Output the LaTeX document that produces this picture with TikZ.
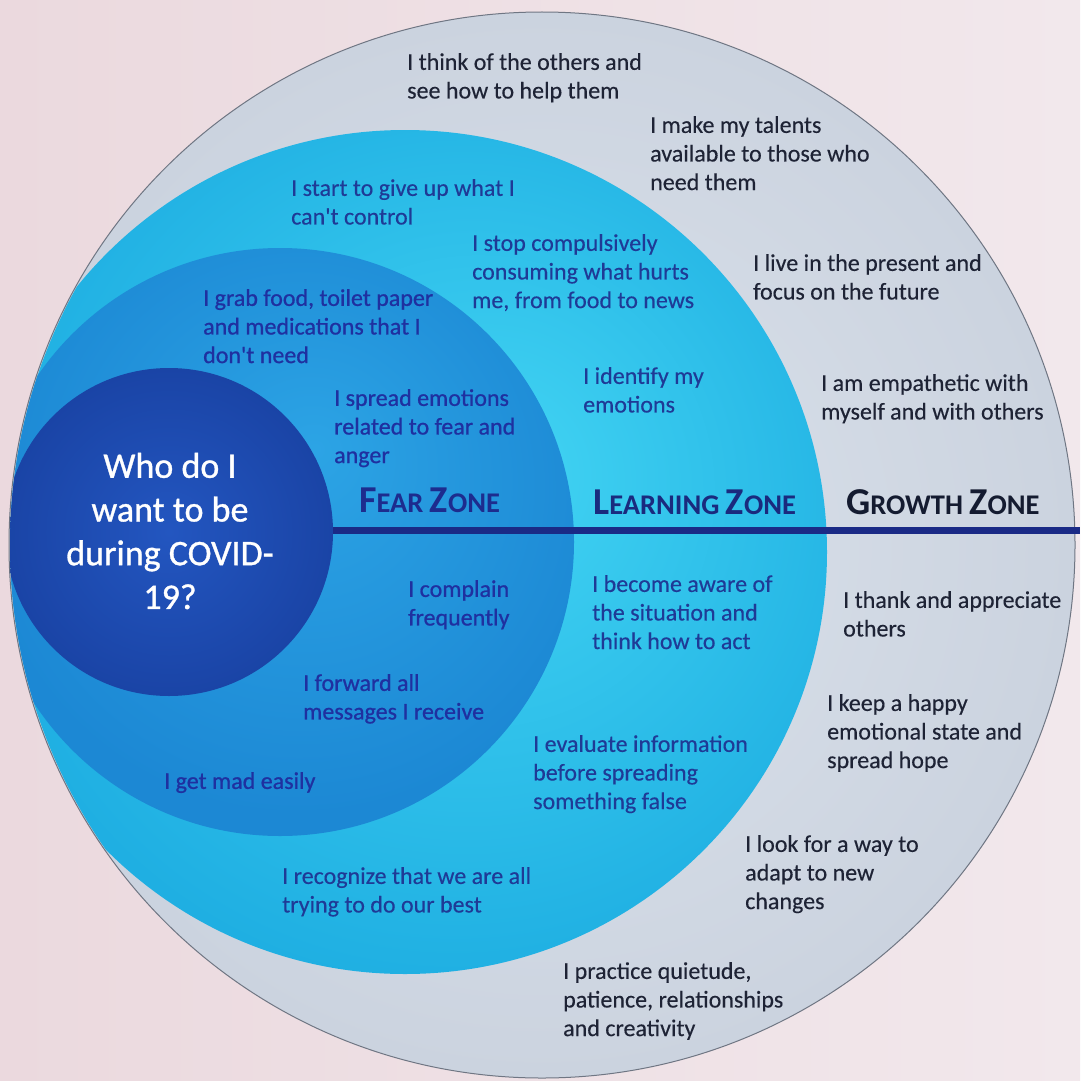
\documentclass[tikz,border=0pt]{standalone}
\usepackage{fontspec}
\setmainfont{Carlito}[Ligatures=TeXOff]
\newfontfamily\semib{Carlito}[FakeBold=0.8,Ligatures=TeXOff]
\newfontfamily\lightb{Carlito}[FakeBold=0.3,Ligatures=TeXOff]
\newfontfamily\whob{Carlito}[FakeBold=0.9,Ligatures=TeXOff]
\definecolor{bgL}{HTML}{EBD9DE}
\definecolor{bgR}{HTML}{F2E8EC}
\definecolor{growIn}{HTML}{DCE3EC}
\definecolor{growOut}{HTML}{CBD3DF}
\definecolor{growEdge}{HTML}{6F7683}
\definecolor{learnIn}{HTML}{42D4F3}
\definecolor{learnOut}{HTML}{1FAFE2}
\definecolor{fearIn}{HTML}{2CA4E5}
\definecolor{fearOut}{HTML}{1C88D4}
\definecolor{darkIn}{HTML}{2356C0}
\definecolor{darkOut}{HTML}{1A44A6}
\definecolor{lineCol}{HTML}{1A2A86}
\definecolor{fearText}{HTML}{1F30A0}
\definecolor{learnText}{HTML}{1F3A96}
\definecolor{growText}{HTML}{1E2335}
\definecolor{fearTitle}{HTML}{1D2C8E}
\definecolor{learnTitle}{HTML}{1A2A7E}
\definecolor{growTitle}{HTML}{141B30}
\pgfdeclareradialshading{learnshade}{\pgfpoint{6bp}{5bp}}{color(0bp)=(learnIn); color(28bp)=(learnOut); color(50bp)=(learnOut)}
\pgfdeclareradialshading{fearshade}{\pgfpoint{3bp}{8bp}}{color(0bp)=(fearIn); color(27bp)=(fearOut); color(50bp)=(fearOut)}
\newcommand\zt[2]{{\fontsize{38}{40}\selectfont #1}{\fontsize{28.5}{30}\selectfont #2}}
\tikzset{
  txt/.style={anchor=north west, inner sep=0pt, align=left, font=\lightb\fontsize{24}{28.6}\selectfont},
  feartxt/.style={txt, text=fearText, font=\semib\fontsize{24}{28.6}\selectfont},
  learntxt/.style={txt, text=learnText},
  growtxt/.style={txt, text=growText},
  zonetitle/.style={anchor=base west, inner sep=0pt, font=\bfseries\fontsize{28.5}{30}\selectfont},
  zoneline/.style={draw=lineCol, line width=7pt},
}
\begin{document}
\begin{tikzpicture}[x=1pt,y=-1pt]
  \useasboundingbox (0,0) rectangle (1080,1081);
  \shade[left color=bgL, right color=bgR] (0,0) rectangle (1080,1081);
  % zones
  \shade[inner color=growIn, outer color=growOut] (542,545) circle (533);
  \begin{scope}
    \clip (542,545) circle (532);
    \shade[shading=learnshade] (405,552) circle (422);
    \shade[shading=fearshade] (280,542) circle (294);
    \shade[inner color=darkIn, outer color=darkOut] (169,532) circle (164);
  \end{scope}
  \draw[growEdge, line width=1pt] (542,545) circle (533);
  % dividing line
  \coordinate (ls) at (333,530);
  \coordinate (le) at (1080,530);
  \draw[zoneline] (ls) -- (le);
  % centre question
  \node[anchor=center, align=center, inner sep=0pt, text=white, font=\whob\fontsize{36}{43.7}\selectfont] (who) at (170,531) {Who do I\\want to be\\during COVID-\\19?};
  % zone titles
  \node[zonetitle, text=fearTitle] (tfear) at (359,512) {\zt{F}{EAR} \zt{Z}{ONE}};
  \node[zonetitle, text=learnTitle] (tlearn) at (593,514) {\zt{L}{EARNING} \zt{Z}{ONE}};
  \node[zonetitle, text=growTitle] (tgrow) at (846,514) {\zt{G}{ROWTH} \zt{Z}{ONE}};
  % growth zone texts
  \node[growtxt] (g1) at (407,53) {I think of the others and\\see how to help them};
  \node[growtxt] (g2) at (650,116) {I make my talents\\available to those who\\need them};
  \node[growtxt] (g3) at (753,254) {I live in the present and\\focus on the future};
  \node[growtxt] (g4) at (821,374) {I am empathetic with\\myself and with others};
  \node[growtxt] (g5) at (843,591) {I thank and appreciate\\others};
  \node[growtxt] (g6) at (827,694) {I keep a happy\\emotional state and\\spread hope};
  \node[growtxt] (g7) at (745,835) {I look for a way to\\adapt to new\\changes};
  \node[growtxt] (g8) at (563,962) {I practice quietude,\\patience, relationships\\and creativity};
  % learning zone texts
  \node[learntxt] (l1) at (291,179) {I start to give up what I\\can't control};
  \node[learntxt] (l2) at (472,234) {I stop compulsively\\consuming what hurts\\me, from food to news};
  \node[learntxt] (l3) at (583,367) {I identify my\\emotions};
  \node[learntxt] (l4) at (592,575) {I become aware of\\the situation and\\think how to act};
  \node[learntxt] (l5) at (533,735) {I evaluate information\\before spreading\\something false};
  \node[learntxt] (l6) at (282,867) {I recognize that we are all\\trying to do our best};
  % fear zone texts
  \node[feartxt] (f1) at (203,289) {I grab food, toilet paper\\and medications that I\\don't need};
  \node[feartxt] (f2) at (334,389) {I spread emotions\\related to fear and\\anger};
  \node[feartxt] (f3) at (408,580) {I complain\\frequently};
  \node[feartxt] (f4) at (303,674) {I forward all\\messages I receive};
  \node[feartxt] (f5) at (164,772) {I get mad easily};
\end{tikzpicture}
\end{document}
